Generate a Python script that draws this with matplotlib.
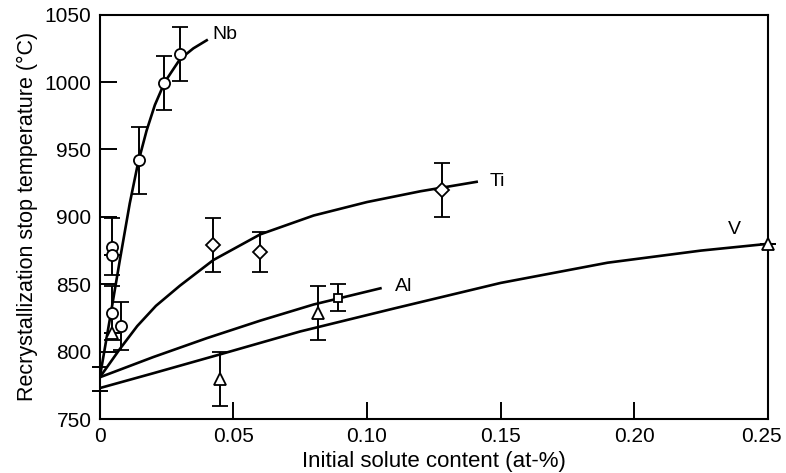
import matplotlib.pyplot as plt
import matplotlib.transforms as mtransforms

plt.rcParams['font.family'] = ['Liberation Sans', 'DejaVu Sans']

# fitted curves
nb_curve_x = [0, 0.004, 0.0075, 0.0112, 0.0143, 0.0175, 0.0206, 0.0243, 0.030, 0.035, 0.040]
nb_curve_y = [781, 827, 868, 910, 940, 964, 983, 1000, 1017, 1025, 1031]
ti_curve_x = [0, 0.0075, 0.014, 0.021, 0.03, 0.0425, 0.06, 0.08, 0.10, 0.12, 0.141]
ti_curve_y = [781, 802, 819, 834, 849, 868, 887, 901, 911, 919, 926]
al_curve_x = [0, 0.02, 0.04, 0.06, 0.08, 0.105]
al_curve_y = [781, 796, 810, 823, 835, 847]
v_curve_x = [0, 0.02, 0.045, 0.075, 0.11, 0.15, 0.19, 0.225, 0.25]
v_curve_y = [773, 784, 798, 815, 832, 851, 866, 875, 880]

# measured points with error bars
nb_x = [0.0047, 0.0047, 0.0044, 0.0081, 0.0147, 0.0241, 0.030]
nb_y = [878, 872, 829, 819, 942, 999, 1021]
nb_err = [21, 0, 20, 18, 25, 20, 20]
ti_x = [0.0425, 0.060, 0.128]
ti_y = [879, 874, 920]
ti_err = [20, 15, 20]
al_x = [0.089]
al_y = [840]
al_err = [10]
v_x = [0.0045, 0.0449, 0.0818, 0.25]
v_y = [814, 780, 829, 880]
v_err = [0, 20, 20, 0]
base_x = [0]
base_y = [780]
base_err = [9]

labels = ['Nb', 'Ti', 'Al', 'V']
label_x = [0.042, 0.146, 0.1105, 0.235]
label_y = [1035, 926, 848, 891]

y_ticks = [750, 800, 850, 900, 950, 1000, 1050]
y_tick_labels = ['750', '800', '850', '900', '950', '1000', '1050']
x_ticks = [0, 0.05, 0.10, 0.15, 0.20, 0.25]
x_tick_labels = ['0', '0.05', '0.10', '0.15', '0.20', '0.25']

fig = plt.figure(figsize=(7.86, 4.73), dpi=100)
ax = fig.add_axes([0.127, 0.114, 0.85, 0.855])

for cx, cy in [(nb_curve_x, nb_curve_y), (ti_curve_x, ti_curve_y),
               (al_curve_x, al_curve_y), (v_curve_x, v_curve_y)]:
    ax.plot(cx, cy, color='black', lw=1.9, zorder=2)

pt_style = dict(color='black', ecolor='black', elinewidth=1.4, capsize=6, capthick=1.4,
                linestyle='none', mfc='white', mec='black', mew=1.3, zorder=3)
ax.errorbar(nb_x, nb_y, yerr=nb_err, marker='o', ms=8, **pt_style)
ax.errorbar(ti_x, ti_y, yerr=ti_err, marker='D', ms=7, **pt_style)
ax.errorbar(al_x, al_y, yerr=al_err, marker='s', ms=6, **pt_style)
ax.errorbar(v_x, v_y, yerr=v_err, marker='^', ms=9, clip_on=False, **pt_style)
ax.errorbar(base_x, base_y, yerr=base_err, fmt='none', ecolor='black', elinewidth=1.4,
            capsize=6, capthick=1.4, clip_on=False)

for name, lx, ly in zip(labels, label_x, label_y):
    ax.text(lx, ly, name, fontsize=14, ha='left', va='center')

ax.set_xlim(0, 0.25)
ax.set_ylim(750, 1050)
ax.set_xticks(x_ticks)
ax.set_xticklabels(x_tick_labels)
ax.set_yticks(y_ticks)
ax.set_yticklabels(y_tick_labels)
ax.tick_params(direction='in', length=12, width=1.4, labelsize=15, pad=6)
for s in ax.spines.values():
    s.set_linewidth(1.5)

# last x label sits against the right edge, pull it in a little
last = ax.get_xticklabels()[-1]
last.set_transform(last.get_transform() + mtransforms.ScaledTranslation(-5 / 72, 0, fig.dpi_scale_trans))

ax.set_xlabel('Initial solute content (at-%)', fontsize=16, labelpad=3)
ax.set_ylabel('Recrystallization stop temperature (°C)', fontsize=15.5, labelpad=5)

fig.savefig('out.png', dpi=100)
